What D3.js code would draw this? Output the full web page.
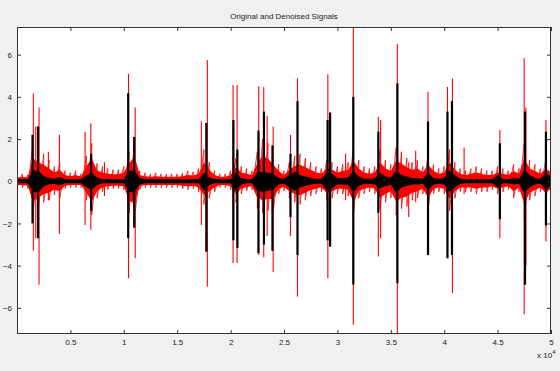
<!DOCTYPE html>
<html>
<head>
<meta charset="utf-8">
<script src="https://cdn.jsdelivr.net/npm/d3@7/dist/d3.min.js"></script>
<style>
    body { margin: 0; background: #f0f0f0; }
    svg text { font-family: "Liberation Sans", Arial, sans-serif; }
</style>
</head>
<body>
<div id="chart"></div>
<script>
// envelope of the signals, one value every 500 samples (0 .. 50000)
var binStep = 500;

var redHi = [0.3, 0.35, 0.3, 1.8, 1.5, 1.3, 1.0, 0.7, 0.9, 0.5,
    0.4, 0.5, 0.35, 1.2, 1.8, 0.85, 0.7, 0.6, 0.55, 0.55,
    0.7, 1.4, 2.0, 0.5, 0.4, 0.35, 0.4, 0.35, 0.35, 0.35,
    0.35, 0.4, 0.5, 0.45, 0.6, 1.5, 0.9, 0.5, 0.35, 0.35,
    0.5, 1.1, 0.7, 0.6, 0.5, 1.4, 2.0, 1.8, 1.3, 0.8,
    0.5, 0.9, 1.2, 1.3, 1.1, 0.9, 0.7, 0.6, 1.0, 0.9,
    0.7, 0.8, 0.9, 1.6, 1.0, 0.7, 0.6, 0.7, 1.5, 1.0,
    0.8, 1.6, 1.4, 1.1, 0.9, 1.0, 0.7, 1.3, 0.8, 0.6,
    0.7, 1.5, 0.9, 0.6, 0.5, 0.6, 0.7, 0.6, 0.5, 0.5,
    0.7, 0.6, 0.5, 0.8, 0.6, 1.8, 1.0, 0.8, 0.6, 1.0,
    0.7];

var redLo = [-0.3, -0.3, -0.35, -1.6, -1.3, -1.0, -0.9, -0.65, -0.8, -0.35,
    -0.3, -0.3, -0.3, -0.9, -1.6, -0.8, -0.5, -0.4, -0.35, -0.35,
    -0.4, -1.5, -1.8, -0.4, -0.3, -0.3, -0.3, -0.3, -0.3, -0.3,
    -0.3, -0.35, -0.4, -0.35, -0.5, -1.1, -0.8, -0.5, -0.3, -0.3,
    -0.4, -1.0, -0.6, -0.45, -0.4, -1.3, -1.5, -1.4, -1.4, -0.6,
    -0.45, -0.8, -1.0, -1.1, -0.9, -0.7, -0.6, -0.5, -0.9, -0.8,
    -0.6, -0.6, -0.7, -1.6, -0.8, -0.6, -0.5, -0.6, -1.3, -1.0,
    -0.8, -1.6, -1.3, -1.2, -0.9, -0.8, -0.6, -1.3, -0.6, -0.5,
    -0.6, -1.4, -0.8, -0.5, -0.5, -0.5, -0.6, -0.5, -0.5, -0.4,
    -0.6, -0.5, -0.4, -0.8, -0.5, -1.8, -0.9, -0.7, -0.5, -0.9,
    -0.6];

var blackHi = [0.1, 0.1, 0.1, 0.5, 0.5, 0.25, 0.15, 0.12, 0.2, 0.1,
    0.1, 0.1, 0.1, 0.3, 0.4, 0.18, 0.1, 0.1, 0.1, 0.1,
    0.1, 0.5, 0.5, 0.15, 0.1, 0.1, 0.1, 0.1, 0.1, 0.1,
    0.1, 0.1, 0.1, 0.1, 0.1, 0.4, 0.18, 0.1, 0.1, 0.1,
    0.1, 0.4, 0.15, 0.1, 0.1, 0.4, 0.45, 0.4, 0.35, 0.15,
    0.12, 0.3, 0.45, 0.3, 0.22, 0.15, 0.12, 0.12, 0.4, 0.35,
    0.15, 0.15, 0.18, 0.5, 0.22, 0.12, 0.12, 0.15, 0.4, 0.22,
    0.18, 0.5, 0.3, 0.22, 0.15, 0.15, 0.12, 0.4, 0.15, 0.12,
    0.15, 0.5, 0.3, 0.12, 0.1, 0.1, 0.1, 0.1, 0.1, 0.1,
    0.3, 0.1, 0.1, 0.15, 0.12, 0.55, 0.3, 0.15, 0.12, 0.4,
    0.22];

var blackLo = [-0.1, -0.1, -0.1, -0.5, -0.55, -0.25, -0.15, -0.12, -0.2, -0.1,
    -0.1, -0.1, -0.1, -0.3, -0.4, -0.18, -0.1, -0.1, -0.1, -0.1,
    -0.1, -0.5, -0.55, -0.15, -0.1, -0.1, -0.1, -0.1, -0.1, -0.1,
    -0.1, -0.1, -0.1, -0.1, -0.1, -0.45, -0.18, -0.1, -0.1, -0.1,
    -0.1, -0.45, -0.15, -0.1, -0.1, -0.45, -0.5, -0.45, -0.4, -0.15,
    -0.12, -0.3, -0.45, -0.3, -0.22, -0.15, -0.12, -0.12, -0.4, -0.35,
    -0.15, -0.15, -0.18, -0.55, -0.22, -0.12, -0.12, -0.15, -0.35, -0.22,
    -0.18, -0.55, -0.3, -0.22, -0.15, -0.15, -0.12, -0.45, -0.15, -0.12,
    -0.15, -0.5, -0.3, -0.12, -0.1, -0.1, -0.1, -0.1, -0.1, -0.1,
    -0.3, -0.1, -0.1, -0.15, -0.12, -0.55, -0.3, -0.15, -0.12, -0.4,
    -0.22];

// narrow peaks: [sample, top, bottom]
var redSpikes = [
    [1530, 4.17, -3.3], [1755, 2.6, -2.7], [2064, 3.5, -4.9], [2936, 1.4, -0.9],
    [3968, 2.2, -2.5], [6378, 2.35, -2.07], [6913, 2.75, -2.3], [8190, 0.9, -0.7],
    [10440, 5.1, -4.6], [11068, 3.5, -3.65], [17259, 2.83, -2.07], [17822, 5.75, -5.0],
    [20233, 4.56, -3.87], [20608, 4.56, -3.87], [22634, 4.5, -3.5], [23103, 4.45, -3.6],
    [23422, 3.1, -2.6], [23985, 2.6, -4.3], [25607, 2.2, -2.6], [26264, 4.88, -5.47],
    [29106, 5.07, -4.6], [30766, 1.3, -0.9], [31489, 7.4, -6.8], [33834, 3.06, -3.57],
    [34049, 2.9, -2.7], [35615, 6.49, -7.3], [36676, 0.9, -1.7], [37332, 1.45, -1.0],
    [38486, 4.24, -3.5], [40306, 4.47, -3.65], [40775, 4.87, -5.3], [41863, 1.6, -0.6],
    [45212, 2.43, -2.7], [47491, 5.83, -6.3], [47651, 3.5, -4.0], [49526, 2.9, -2.86]
];

var blackSpikes = [
    [1454, 2.2, -2.0], [1970, 2.6, -2.7], [6941, 1.3, -1.4], [10412, 4.17, -2.7],
    [10975, 2.1, -2.2], [17728, 2.76, -3.34], [20261, 2.9, -2.8], [20636, 1.5, -3.16],
    [22606, 2.4, -3.4], [23122, 3.3, -3.0], [23919, 1.7, -3.3], [25607, 1.3, -1.7],
    [26264, 3.8, -3.5], [29081, 2.9, -2.8], [29316, 3.26, -3.1], [31489, 4.0, -4.9],
    [33834, 2.35, -1.5], [35615, 4.64, -4.83], [38486, 2.83, -3.5], [40306, 3.3, -3.65],
    [40728, 3.8, -3.5], [45212, 1.8, -1.8], [47566, 3.3, -4.9], [49526, 2.35, -2.1]
];

var xTickValues = [5000, 10000, 15000, 20000, 25000, 30000, 35000, 40000, 45000, 50000];
var xTickLabels = ["0.5", "1", "1.5", "2", "2.5", "3", "3.5", "4", "4.5", "5"];
var yTickValues = [-6, -4, -2, 0, 2, 4, 6];

var svgWidth = 560;
var svgHeight = 371;
var margin = { top: 27, right: 9, bottom: 37, left: 17 };
var chart_width = svgWidth - margin.left - margin.right;
var chart_height = svgHeight - margin.top - margin.bottom;

var svg = d3.select("#chart")
    .append("svg")
    .attr("width", svgWidth)
    .attr("height", svgHeight)
    .style("background", "#f0f0f0");

var chartGroup = svg.append("g")
    .attr("transform", `translate(${margin.left}, ${margin.top})`);

var xScale = d3.scaleLinear()
    .domain([0, 50000])
    .range([0, chart_width]);

var yScale = d3.scaleLinear()
    .domain([-7.24, 7.31])
    .range([chart_height, 0]);

chartGroup.append("rect")
    .attr("width", chart_width)
    .attr("height", chart_height)
    .attr("fill", "white");

svg.append("defs").append("clipPath")
    .attr("id", "plotClip")
    .append("rect")
    .attr("width", chart_width)
    .attr("height", chart_height);

var plot = chartGroup.append("g").attr("clip-path", "url(#plotClip)");

var bins = redHi.map(function(d, i) { return i; });

// dense part of the noise is drawn a bit inside the envelope,
// the trace itself swings between the envelope values of every bin
var coreShare = 0.6;

var redArea = d3.area()
    .x(i => xScale(i * binStep))
    .y0(i => yScale(redLo[i] * coreShare))
    .y1(i => yScale(redHi[i] * coreShare));

var swing = [];
bins.forEach(function(i) {
    swing.push([i * binStep, redHi[i]]);
    swing.push([i * binStep, redLo[i]]);
});

var traceLine = d3.line()
    .x(d => xScale(d[0]))
    .y(d => yScale(d[1]));

var blackArea = d3.area()
    .x(i => xScale(i * binStep))
    .y0(i => yScale(blackLo[i]))
    .y1(i => yScale(blackHi[i]));

plot.append("path")
    .datum(bins)
    .attr("d", redArea)
    .attr("fill", "#ff0000");

plot.append("path")
    .datum(swing)
    .attr("d", traceLine)
    .attr("fill", "none")
    .attr("stroke", "#ff0000")
    .attr("stroke-width", 0.8);

plot.append("g")
    .selectAll("line")
    .data(redSpikes)
    .enter()
    .append("line")
    .attr("x1", d => xScale(d[0]))
    .attr("x2", d => xScale(d[0]))
    .attr("y1", d => yScale(d[1]))
    .attr("y2", d => yScale(d[2]))
    .attr("stroke", "#ff0000")
    .attr("stroke-width", 1.1);

plot.append("path")
    .datum(bins)
    .attr("d", blackArea)
    .attr("fill", "#000");

plot.append("g")
    .selectAll("line")
    .data(blackSpikes)
    .enter()
    .append("line")
    .attr("x1", d => xScale(d[0]))
    .attr("x2", d => xScale(d[0]))
    .attr("y1", d => yScale(d[1]))
    .attr("y2", d => yScale(d[2]))
    .attr("stroke", "#000")
    .attr("stroke-width", 2.2);

// axes, MATLAB style: ticks inside on all four sides
var bottomAxis = d3.axisBottom(xScale)
    .tickValues(xTickValues)
    .tickFormat((d, i) => xTickLabels[i])
    .tickSize(-4)
    .tickPadding(5);
var topAxis = d3.axisTop(xScale).tickValues(xTickValues).tickFormat("").tickSize(-4);
var leftAxis = d3.axisLeft(yScale)
    .tickValues(yTickValues)
    .tickSize(-4)
    .tickPadding(5);
var rightAxis = d3.axisRight(yScale).tickValues(yTickValues).tickFormat("").tickSize(-4);

function styleAxis(g) {
    g.select(".domain").remove();
    g.selectAll("line").attr("stroke", "#333");
    g.selectAll("text")
        .attr("fill", "#222")
        .style("font-size", "8px");
}

chartGroup.append("g")
    .attr("transform", `translate(0, ${chart_height})`)
    .call(bottomAxis)
    .call(styleAxis);
chartGroup.append("g").call(topAxis).call(styleAxis);
chartGroup.append("g").call(leftAxis).call(styleAxis);
chartGroup.append("g")
    .attr("transform", `translate(${chart_width}, 0)`)
    .call(rightAxis)
    .call(styleAxis);

chartGroup.append("rect")
    .attr("x", 0.5)
    .attr("y", 0.5)
    .attr("width", chart_width - 1)
    .attr("height", chart_height - 1)
    .attr("fill", "none")
    .attr("stroke", "#333")
    .attr("stroke-width", 1);

chartGroup.append("text")
    .attr("x", chart_width / 2)
    .attr("y", -8)
    .attr("text-anchor", "middle")
    .style("font-size", "8px")
    .attr("fill", "#222")
    .text("Original and Denoised Signals");

var expLabel = chartGroup.append("text")
    .attr("x", chart_width - 14)
    .attr("y", chart_height + 24)
    .style("font-size", "8px")
    .attr("fill", "#222");
expLabel.append("tspan").text("x 10");
expLabel.append("tspan")
    .attr("dy", -4)
    .style("font-size", "6px")
    .text("4");
</script>
</body>
</html>
